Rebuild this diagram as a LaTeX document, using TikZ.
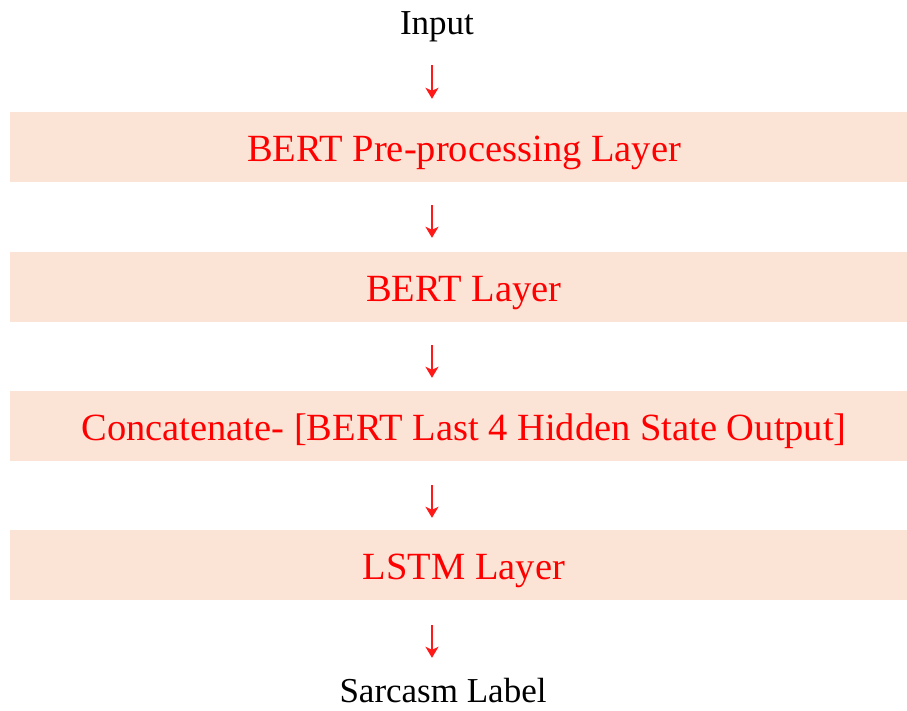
\documentclass[tikz,border=0pt]{standalone}
\usepackage{fontspec}
\setmainfont{Liberation Serif}
\usetikzlibrary{arrows.meta}
\definecolor{boxfill}{HTML}{FBE4D6}
\definecolor{arrred}{HTML}{FF1A1A}
\begin{document}
\begin{tikzpicture}[x=1pt,y=-1pt,
  layerbox/.style={fill=boxfill, draw=none, minimum width=908pt, minimum height=70pt,
    inner sep=0pt, text=red, text height=29pt, text depth=0pt, font=\fontsize{38.5}{44}\selectfont},
  plain/.style={inner sep=0pt, text height=24pt, text depth=8pt, font=\fontsize{35}{40}\selectfont},
  arr/.style={draw=arrred, line width=2pt, -{Stealth[length=11pt,width=13pt,inset=3pt]}}]
\useasboundingbox (0,0) rectangle (907,710);
\coordinate (ax) at (432,0);
\node[plain] (input) at (437,26) {Input};
\node[layerbox] (b1) at (464,146.5) {BERT Pre-processing Layer};
\node[layerbox] (b2) at (464,286.5) {BERT Layer};
\node[layerbox] (b3) at (464,426) {Concatenate- [BERT Last 4 Hidden State Output]};
\node[layerbox] (b4) at (464,565) {LSTM Layer};
\node[plain, text depth=0pt] (out) at (443,690) {Sarcasm Label};
\draw[arr, shorten <=23pt, shorten >=12.5pt] (input.south -| ax) -- (b1.north -| ax);
\draw[arr, shorten <=23.5pt, shorten >=13.5pt] (b1.south -| ax) -- (b2.north -| ax);
\draw[arr, shorten <=23.5pt, shorten >=13pt] (b2.south -| ax) -- (b3.north -| ax);
\draw[arr, shorten <=24pt, shorten >=12pt] (b3.south -| ax) -- (b4.north -| ax);
\draw[arr, shorten <=25pt, shorten >=20pt] (b4.south -| ax) -- (out.north -| ax);
\end{tikzpicture}
\end{document}
